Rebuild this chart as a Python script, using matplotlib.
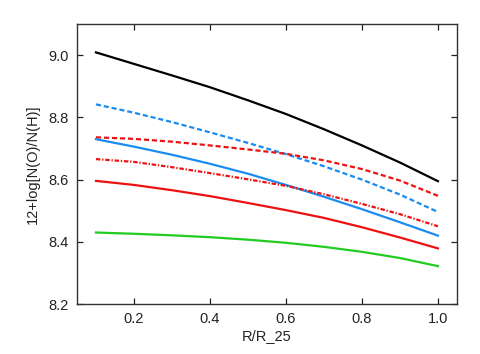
import matplotlib
matplotlib.use("Agg")
import matplotlib.pyplot as plt

# radius grid and abundance gradients
r = [0.1, 0.2, 0.3, 0.4, 0.5, 0.6, 0.7, 0.8, 0.9, 1.0]
black_solid = [9.009, 8.972, 8.935, 8.897, 8.855, 8.811, 8.762, 8.710, 8.655, 8.595]
blue_dashed = [8.842, 8.815, 8.785, 8.752, 8.718, 8.682, 8.643, 8.600, 8.552, 8.496]
red_dashed = [8.736, 8.731, 8.722, 8.710, 8.697, 8.683, 8.662, 8.634, 8.597, 8.548]
blue_solid = [8.730, 8.706, 8.680, 8.651, 8.619, 8.583, 8.545, 8.505, 8.463, 8.420]
red_dashdot = [8.666, 8.657, 8.640, 8.621, 8.601, 8.580, 8.553, 8.522, 8.489, 8.450]
red_solid = [8.596, 8.583, 8.566, 8.547, 8.525, 8.502, 8.477, 8.447, 8.414, 8.379]
green_solid = [8.430, 8.426, 8.421, 8.415, 8.407, 8.397, 8.384, 8.368, 8.348, 8.322]

xticks = [0.2, 0.4, 0.6, 0.8, 1.0]
yticks = [8.2, 8.4, 8.6, 8.8, 9.0]

blue = '#1a8cf0'
red = '#ee1111'
green = '#22cc22'

plt.rcParams['font.family'] = ['Liberation Sans', 'DejaVu Sans']

fig = plt.figure(figsize=(4.81, 3.54), dpi=100)
ax = fig.add_axes([0.160, 0.141, 0.790, 0.791])

lw = 1.6
dashed = (0, (2.3, 1.3))
dashdot = (0, (2.0, 0.8, 0.6, 0.8))
ax.plot(r, black_solid, color='black', lw=lw)
ax.plot(r, blue_dashed, color=blue, lw=lw, linestyle=dashed)
ax.plot(r, red_dashed, color=red, lw=lw, linestyle=dashed)
ax.plot(r, blue_solid, color=blue, lw=lw)
ax.plot(r, red_dashdot, color=red, lw=lw, linestyle=dashdot)
ax.plot(r, red_solid, color=red, lw=lw)
ax.plot(r, green_solid, color=green, lw=lw)

ax.set_xlim(0.05, 1.05)
ax.set_ylim(8.2, 9.1)
ax.set_xticks(xticks)
ax.set_yticks(yticks)
ax.set_xticklabels(['%.1f' % v for v in xticks])
ax.set_yticklabels(['%.1f' % v for v in yticks])
ax.tick_params(direction='in', length=4.5, width=0.9, top=True, right=True,
               labelsize=10.5, pad=6, colors='#222222')
for s in ax.spines.values():
    s.set_linewidth(1.0)
    s.set_color('#333333')

ax.set_xlabel('R/R_25', fontsize=10.5, labelpad=2, color='#222222')
ax.set_ylabel('12+log[N(O)/N(H)]', fontsize=10.5, labelpad=6, color='#222222')

fig.savefig('out.png', dpi=100)
